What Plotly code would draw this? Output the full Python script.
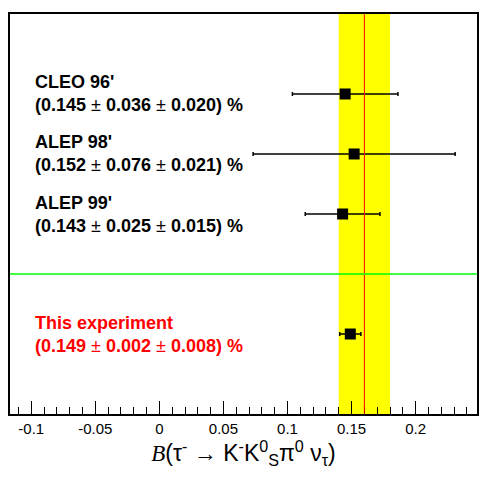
import plotly.graph_objects as go

experiments = ["CLEO 96'", "ALEP 98'", "ALEP 99'", "This experiment"]
values = [0.145, 0.152, 0.143, 0.149]
stat_err = [0.036, 0.076, 0.025, 0.002]
syst_err = [0.020, 0.021, 0.015, 0.008]
y_pos = [4, 3, 2, 0]
text_colors = ["black", "black", "black", "#ff0000"]
avg_value = 0.16
avg_err = 0.02
separator_y = 1
tick_vals = [-0.1, -0.05, 0, 0.05, 0.1, 0.15, 0.2]
tick_text = ["-0.1", "-0.05", "0", "0.05", "0.1", "0.15", "0.2"]

tot_err = [(a**2 + b**2) ** 0.5 for a, b in zip(stat_err, syst_err)]

fig = go.Figure()
fig.add_trace(go.Scatter(
    x=values, y=y_pos, mode="markers",
    marker=dict(symbol="square", size=11, color="black"),
    error_x=dict(type="data", array=tot_err, color="black", thickness=1.5, width=2),
    showlegend=False, hoverinfo="skip",
))

# average band and line
fig.add_vrect(x0=avg_value - avg_err, x1=avg_value + avg_err, fillcolor="#ffff00",
              line_width=0, layer="below", opacity=1)
fig.add_shape(type="line", x0=avg_value, x1=avg_value, y0=0, y1=1, yref="paper",
              line=dict(color="#ff0000", width=1))
fig.add_shape(type="line", x0=0, x1=1, xref="paper", y0=separator_y, y1=separator_y,
              line=dict(color="#00ff00", width=1.3))

for name, v, st, sy, yy, col in zip(experiments, values, stat_err, syst_err, y_pos, text_colors):
    fig.add_annotation(
        x=0.05, xref="paper", y=yy, yref="y", xanchor="left", yanchor="middle",
        align="left", showarrow=False,
        text=f"<b>{name}</b><br><b>({v:.3f}</b> ± <b>{st:.3f}</b> ± <b>{sy:.3f}) %</b>",
        font=dict(family="Liberation Sans, Arial", size=18, color=col),
    )

fig.update_layout(
    width=484, height=477,
    margin=dict(l=10, r=5, t=14, b=63),
    plot_bgcolor="white", paper_bgcolor="white",
    font=dict(family="Liberation Sans, Arial", color="black"),
    xaxis=dict(
        range=[-0.1166, 0.2479], showgrid=False, zeroline=False,
        showline=True, linecolor="black", linewidth=1.5, mirror=True,
        tickvals=tick_vals, ticktext=tick_text,
        ticks="inside", ticklen=13, tickcolor="black", tickwidth=1,
        tickfont=dict(size=15),
        minor=dict(dtick=0.01, tick0=0, ticks="inside", ticklen=7, tickcolor="black", tickwidth=1),
        title=dict(
            text='<span style="font-family:Liberation Serif"><i>B</i></span>(τ<sup>-</sup> → K<sup>-</sup>K<sup>0</sup><sub>S</sub>π<sup>0</sup> ν<sub>τ</sub>)',
            font=dict(size=23), standoff=9),
    ),
    yaxis=dict(
        range=[-1.333, 5.333], showgrid=False, zeroline=False,
        showline=True, linecolor="black", linewidth=1.5, mirror=True,
        showticklabels=False, ticks="",
    ),
)

fig.write_html("out.html")
